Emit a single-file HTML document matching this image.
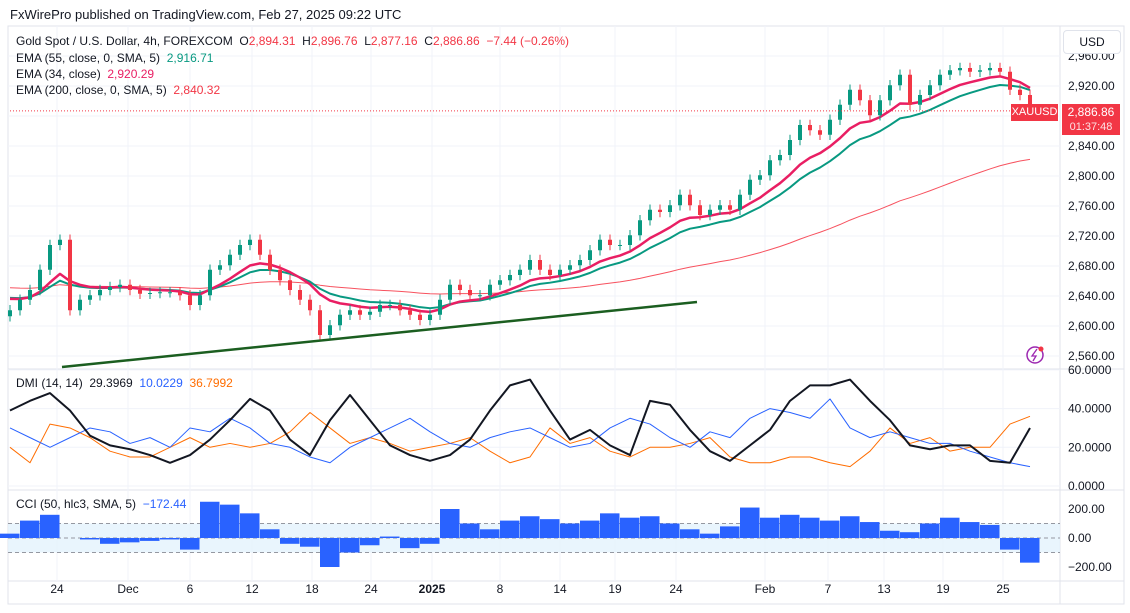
<!DOCTYPE html>
<html><head><meta charset="utf-8">
<style>
body{margin:0;background:#fff;font-family:"Liberation Sans",sans-serif;}
#wrap{position:relative;width:1130px;height:613px;overflow:hidden;background:#fff;}
.t{position:absolute;font-size:12px;color:#131722;white-space:nowrap;}
</style></head><body>
<div id="wrap">
<div class="t" style="left:10px;top:7px;font-size:13px;">FxWirePro published on TradingView.com, Feb 27, 2025 09:22 UTC</div>
<svg id="svg" width="1130" height="613" style="position:absolute;left:0;top:0"></svg>
<div class="t" style="left:16px;top:34px">Gold Spot / U.S. Dollar, 4h, FOREXCOM &nbsp;O<span style="color:#f23645">2,894.31</span> &nbsp;H<span style="color:#f23645">2,896.76</span> &nbsp;L<span style="color:#f23645">2,877.16</span> &nbsp;C<span style="color:#f23645">2,886.86 &nbsp;−7.44 (−0.26%)</span></div>
<div class="t" style="left:16px;top:51px">EMA (55, close, 0, SMA, 5) &nbsp;<span style="color:#089981">2,916.71</span></div>
<div class="t" style="left:16px;top:67px">EMA (34, close) &nbsp;<span style="color:#e91e63">2,920.29</span></div>
<div class="t" style="left:16px;top:83px">EMA (200, close, 0, SMA, 5) &nbsp;<span style="color:#f23645">2,840.32</span></div>
<div class="t" style="left:16px;top:376px">DMI (14, 14) &nbsp;29.3969 &nbsp;<span style="color:#2962ff">10.0229</span> &nbsp;<span style="color:#ff6d00">36.7992</span></div>
<div class="t" style="left:16px;top:497px">CCI (50, hlc3, SMA, 5) &nbsp;<span style="color:#2962ff">−172.44</span></div>
<div class="t" style="left:1063px;top:30px;width:56px;height:22px;border:1px solid #e0e3eb;border-radius:4px;line-height:22px;text-align:center;background:#fff;">USD</div>
<div class="t" style="left:1011px;top:104px;width:47px;height:17px;background:#f23645;color:#fff;line-height:17px;text-align:center;font-size:11px;">XAUUSD</div>
<div class="t" style="left:1062px;top:104px;width:58px;height:30px;background:#f23645;color:#fff;text-align:center;line-height:14px;padding-top:1px">2,886.86<br><span style="font-size:11px;opacity:.85">01:37:48</span></div>
</div>
<script>
const closes=[2621,2635,2648,2675,2708,2715,2621,2635,2641,2648,2652,2655,2648,2643,2644,2645,2645,2641,2628,2641,2675,2681,2695,2708,2715,2695,2675,2661,2648,2635,2621,2588,2601,2615,2621,2615,2619,2628,2628,2621,2615,2608,2615,2635,2655,2648,2641,2641,2655,2661,2668,2675,2688,2675,2668,2675,2681,2688,2701,2715,2708,2708,2721,2741,2755,2752,2761,2775,2761,2748,2755,2761,2755,2775,2795,2801,2821,2828,2848,2868,2861,2855,2875,2895,2915,2901,2881,2901,2921,2935,2895,2908,2921,2935,2941,2944,2939,2941,2944,2939,2915,2908,2887];
const adx=[39,44,48,39,26,21,19,16,12,16,24,34,45,39,24,16,34,47,34,21,16,13,16,24,39,52,55,39,24,29,21,16,44,42,29,18,13,21,29,44,52,52,55,44,34,21,19,21,21,13,12,30];
const plusDI=[30,25,20,25,30,28,22,25,20,30,28,35,30,22,20,15,12,20,25,30,35,28,22,20,25,28,30,25,20,22,30,35,32,25,20,28,25,35,40,38,35,45,30,25,28,25,22,22,18,15,12,10];
const minusDI=[20,12,32,30,25,18,15,15,20,25,20,22,20,22,28,38,30,22,25,22,18,20,22,25,18,12,15,30,22,25,18,15,20,20,22,25,15,12,12,15,15,12,10,18,30,22,25,18,20,20,32,36];
const cci=[30,120,160,0,-10,-40,-30,-20,-10,-80,250,230,170,60,-40,-60,-200,-100,-50,10,-70,-40,200,100,60,120,150,130,100,120,170,140,150,100,60,30,80,210,140,160,140,120,150,110,50,40,100,140,110,90,-80,-170];
const priceTicks=[2560,2600,2640,2680,2720,2760,2800,2840,2880,2920,2960];
const dmiTicks=[0,20,40,60];
const cciTicks=[-200,0,200];
const timeLabels=["24","Dec","6","12","18","24","2025","8","14","19","24","Feb","7","13","19","25"];
const timeX=[57,128,190,252,312,371,432,500,560,615,676,765,828,884,943,1003];

const NS="http://www.w3.org/2000/svg";const svg=document.getElementById('svg');
function mk(tag,attrs,parent){const e=document.createElementNS(NS,tag);for(const k in attrs)e.setAttribute(k,attrs[k]);(parent||svg).appendChild(e);return e;}
const py=p=>86+(2920-p)*0.75;
const dy=v=>486-v*1.935;
const cy=v=>538-v*0.145;
const cx=i=>10+i*10;
const sx=i=>10+i*20;
let g;
g=mk('rect',{x:8,y:26,width:1116,height:578,fill:'none',stroke:'#e0e3eb'});

[369,490,581].forEach(y=>{const l=mk('line',{x1:8,x2:1124,y1:y,y2:y,stroke:'#e0e3eb'});});
const ax=mk('line',{x1:1060,x2:1060,y1:26,y2:604,stroke:'#e0e3eb'});
timeLabels.forEach((t,i)=>{
 const l=mk('line',{x1:timeX[i],x2:timeX[i],y1:26,y2:581,stroke:'#f0f3fa'});
 
 const tx=mk('text',{x:timeX[i],y:593,'text-anchor':'middle','font-size':12,fill:'#131722','font-weight':t==='2025'?'bold':'normal'});
 tx.textContent=t;
 
});
priceTicks.forEach(p=>{
 const y=py(p);
 const l=mk('line',{x1:8,x2:1060,y1:y,y2:y,stroke:'#f0f3fa'});
 
 if(y>30&&y<368){const t=mk('text',{x:1068,y:y+4,'font-size':12,fill:'#131722'});t.textContent=p.toLocaleString('en-US')+'.00';
 }
});
dmiTicks.forEach(v=>{const y=dy(v);
 const l=mk('line',{x1:8,x2:1060,y1:y,y2:y,stroke:'#f0f3fa'});
 const t=mk('text',{x:1068,y:y+4,'font-size':12,fill:'#131722'});t.textContent=v.toFixed(4);
 });
cciTicks.forEach(v=>{const y=cy(v);
 const t=mk('text',{x:1068,y:y+4,'font-size':12,fill:'#131722'});t.textContent=(v<0?'−':'')+Math.abs(v).toFixed(2);
 });
const band=mk('rect',{x:8,y:cy(100),width:1052,height:cy(-100)-cy(100),fill:'#e3f2fd',opacity:.8});

[100,0,-100].forEach(v=>{const l=mk('line',{x1:8,x2:1060,y1:cy(v),y2:cy(v),stroke:'#9598a1','stroke-dasharray':'4 3'});
 });
cci.forEach((v,i)=>{const y0=cy(0),y1=cy(v);
 const r=mk('rect',{x:sx(i)-10,y:Math.min(y0,y1),width:19.5,height:Math.abs(y1-y0),fill:'#2962ff'});
 });
function line(arr,xf,yf,color,w,name){const d=arr.map((v,i)=>(i?'L':'M')+xf(i)+' '+yf(v)).join(' ');
 const p=mk('path',{d,fill:'none',stroke:color,'stroke-width':w,'stroke-linejoin':'round'});
 return p;}
line(minusDI,sx,dy,'#ff6d00',1,'minus-di-line');
line(plusDI,sx,dy,'#2962ff',1,'plus-di-line');
line(adx,sx,dy,'#131722',2,'adx-line');
function ema(arr,n,seed){const k=2/(n+1);let e=seed;return arr.map(v=>e=e+k*(v-e));}
line(ema(closes,60,2652),cx,py,'#f7525f',1,'ema200-line');
line(ema(closes,14,2640),cx,py,'#089981',2,'ema55-line');
line(ema(closes,9,2640),cx,py,'#e91e63',2.5,'ema34-line');
closes.forEach((c,i)=>{const o=i?closes[i-1]:c-8;const up=c>=o;const col=up?'#089981':'#f23645';
 const hi=Math.max(o,c)+7,lo=Math.min(o,c)-7;
 const w=mk('line',{x1:cx(i),x2:cx(i),y1:py(hi),y2:py(lo),stroke:col});
 
 const r=mk('rect',{x:cx(i)-2,y:py(Math.max(o,c)),width:4,height:Math.max(1,Math.abs(py(o)-py(c))),fill:col});
 });
const tl=mk('line',{x1:62,y1:367,x2:697,y2:302,stroke:'#1b5e20','stroke-width':2.5});

const lp=mk('line',{x1:10,x2:1060,y1:py(2886.86),y2:py(2886.86),stroke:'#f23645','stroke-dasharray':'1 2'});

const ic=mk('circle',{cx:1035,cy:355,r:8,fill:'none',stroke:'#9c27b0','stroke-width':1.5});

const bolt=mk('path',{d:'M1037 349 L1032 356 L1036 356 L1033 361',fill:'none',stroke:'#9c27b0','stroke-width':1.3});

const dot=mk('circle',{cx:1041,cy:349,r:2.5,fill:'#f23645'});

</script>
</body></html>
